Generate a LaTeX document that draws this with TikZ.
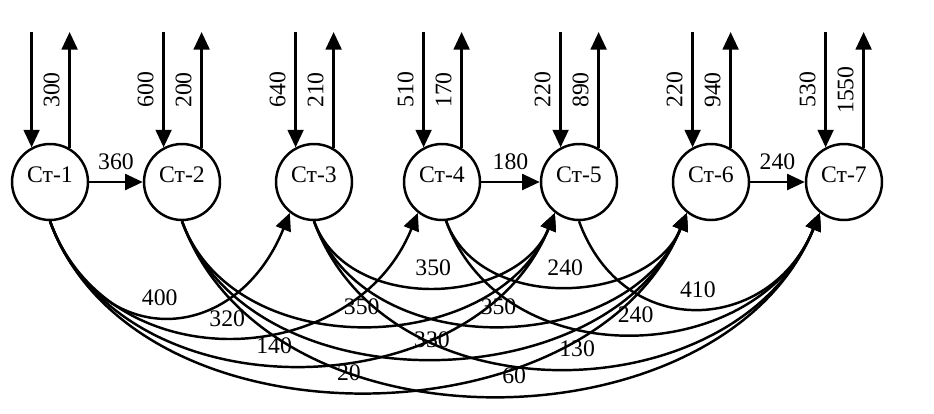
\documentclass[tikz,border=0pt]{standalone}
\usepackage{fontspec}
\setmainfont{Liberation Serif}
\usetikzlibrary{arrows.meta}

\tikzset{
  stn/.style={draw, circle, line width=1.4pt, minimum size=1.52cm, inner sep=0pt,
    text height=9pt, text depth=9pt},
  flow/.style={line width=1.4pt, -{Triangle[length=10pt,width=9pt]}},
  link/.style={flow, out=-70, in=-112},
  num/.style={inner sep=2.5pt},
  vnum/.style={rotate=90, anchor=south, inner sep=5pt},
}

\begin{document}
\begin{tikzpicture}[x=0.02cm, y=-0.02cm, font=\fontsize{13.5}{16}\selectfont]
        \useasboundingbox (0,0) rectangle (934,413);

        % Stations
        \node[stn] (s1) at (50,182) {Ст-1};
        \node[stn] (s2) at (182,182) {Ст-2};
        \node[stn] (s3) at (314,182) {Ст-3};
        \node[stn] (s4) at (442,182) {Ст-4};
        \node[stn] (s5) at (579,182) {Ст-5};
        \node[stn] (s6) at (711,182) {Ст-6};
        \node[stn] (s7) at (844,182) {Ст-7};

        % Free ends of the vertical arrows
        \coordinate (in1) at (s1.118 |- 0,32);  \coordinate (out1) at (s1.60 |- 0,32);
        \coordinate (in2) at (s2.118 |- 0,32);  \coordinate (out2) at (s2.60 |- 0,32);
        \coordinate (in3) at (s3.118 |- 0,32);  \coordinate (out3) at (s3.60 |- 0,32);
        \coordinate (in4) at (s4.118 |- 0,32);  \coordinate (out4) at (s4.60 |- 0,32);
        \coordinate (in5) at (s5.118 |- 0,32);  \coordinate (out5) at (s5.60 |- 0,32);
        \coordinate (in6) at (s6.118 |- 0,32);  \coordinate (out6) at (s6.60 |- 0,32);
        \coordinate (in7) at (s7.118 |- 0,32);  \coordinate (out7) at (s7.60 |- 0,32);

        % Incoming and outgoing flows at the top
        \draw[flow] (in1) -- (s1.118);
        \draw[flow] (s1.60) -- node[vnum] {300} (out1);
        \draw[flow] (in2) -- node[vnum] {600} (s2.118);
        \draw[flow] (s2.60) -- node[vnum] {200} (out2);
        \draw[flow] (in3) -- node[vnum] {640} (s3.118);
        \draw[flow] (s3.60) -- node[vnum] {210} (out3);
        \draw[flow] (in4) -- node[vnum] {510} (s4.118);
        \draw[flow] (s4.60) -- node[vnum] {170} (out4);
        \draw[flow] (in5) -- node[vnum] {220} (s5.118);
        \draw[flow] (s5.60) -- node[vnum] {890} (out5);
        \draw[flow] (in6) -- node[vnum] {220} (s6.118);
        \draw[flow] (s6.60) -- node[vnum] {940} (out6);
        \draw[flow] (in7) -- node[vnum] {530} (s7.118);
        \draw[flow] (s7.60) -- node[vnum] {1550} (out7);

        % Neighbour links
        \draw[flow] (s1) -- node[num, above=4pt] {360} (s2);
        \draw[flow] (s4) -- node[num, above=4pt] {180} (s5);
        \draw[flow] (s6) -- node[num, above=4pt] {240} (s7);

        % Links under the stations
        \draw[link, looseness=1.52] (s1.south) to node[num, above=3pt, pos=0.47] {400} (s3.-128);
        \draw[link, looseness=1.19] (s1.south) to node[num, above=3pt, pos=0.49] {320} (s4.-128);
        \draw[link, looseness=1.07] (s1.south) to node[num, above=3pt, pos=0.46] {140} (s5.-128);
        \draw[link, looseness=1.0] (s1.south) to node[num, above=3pt, pos=0.48] {20} (s6.-128);
        \draw[link, looseness=1.06] (s2.south) to node[num, above=3pt, pos=0.49] {350} (s5.-128);
        \draw[link, looseness=1.02] (s2.south) to node[num, above=3pt] {330} (s6.-128);
        \draw[link, looseness=1.02] (s2.south) to node[num, above=3pt, pos=0.52] {60} (s7.-128);
        \draw[link, looseness=1.06] (s3.south) to node[num, above=3pt] {350} (s5.-128);
        \draw[link, looseness=1.06] (s3.south) to node[num, above=3pt] {350} (s6.-128);
        \draw[link, looseness=1.09] (s3.south) to node[num, above=3pt, pos=0.52] {130} (s7.-128);
        \draw[link, looseness=1.05] (s4.-84) to node[num, above=3pt] {240} (s6.-128);
        \draw[link, looseness=1.14] (s4.-84) to node[num, above=3pt, pos=0.51] {240} (s7.-128);
        \draw[link, looseness=1.38] (s5.south) to node[num, above=3pt] {410} (s7.-128);
\end{tikzpicture}
\end{document}
